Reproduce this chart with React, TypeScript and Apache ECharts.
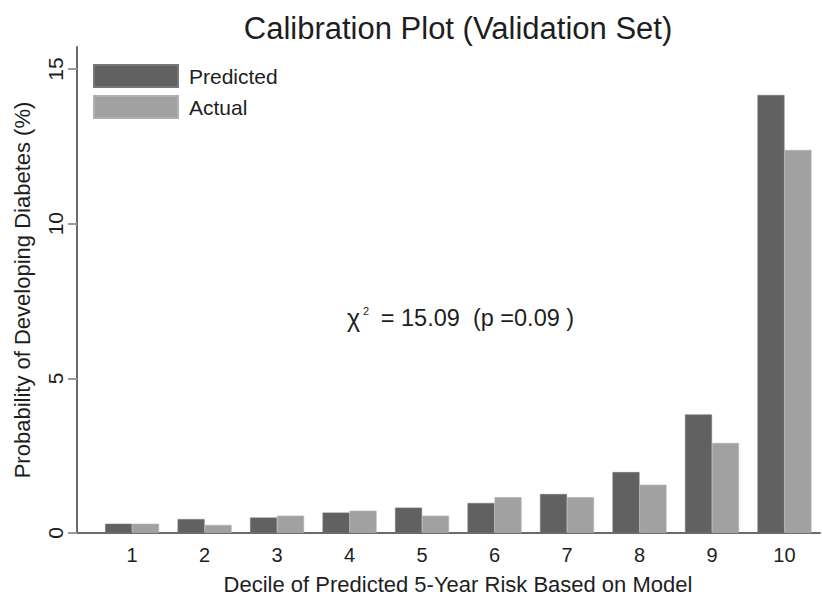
import React, { useEffect, useRef } from "react";
import * as echarts from "echarts";

const deciles = [1, 2, 3, 4, 5, 6, 7, 8, 9, 10];
const predicted = [0.3, 0.45, 0.5, 0.66, 0.82, 0.97, 1.26, 1.97, 3.83, 14.16];
const actual = [0.3, 0.26, 0.56, 0.72, 0.56, 1.16, 1.16, 1.56, 2.91, 12.38];
const yTicks = [0, 5, 10, 15];
const titleText = "Calibration Plot (Validation Set)";
const xTitle = "Decile of Predicted 5-Year Risk Based on Model";
const yTitle = "Probability of Developing Diabetes (%)";
const seriesNames = ["Predicted", "Actual"];

const FONT = "'Liberation Sans', Arial, sans-serif";
const TXT = "#1e1e1e";

export default function App() {
  const ref = useRef<HTMLDivElement>(null);
  useEffect(() => {
    if (!ref.current) return;
    const chart = echarts.init(ref.current, null, { renderer: "svg" });
    chart.setOption({
      animation: false,
      backgroundColor: "#ffffff",
      textStyle: { fontFamily: FONT, color: TXT },
      title: {
        text: titleText,
        left: 458,
        textAlign: "center",
        top: 13,
        padding: 0,
        textStyle: { fontFamily: FONT, fontSize: 31, fontWeight: "normal", color: TXT },
      },
      legend: {
        orient: "vertical",
        left: 93,
        top: 64,
        padding: 0,
        itemWidth: 84,
        itemHeight: 22,
        itemGap: 7,
        icon: "rect",
        data: seriesNames,
        textStyle: { fontFamily: FONT, fontSize: 21, lineHeight: 22, color: TXT, padding: [0, 0, 0, 6] },
      },
      grid: { left: 77, right: 2, top: 47, bottom: 63, containLabel: false, outerBoundsMode: "none" },
      xAxis: {
        type: "value",
        min: 0.24,
        max: 10.49,
        splitLine: { show: false },
        axisLine: { show: true, lineStyle: { color: "#6a6a6a", width: 2 } },
        axisTick: { show: false },
        axisLabel: {
          customValues: deciles,
          fontFamily: FONT,
          fontSize: 20,
          color: TXT,
          margin: 12,
        },
        name: xTitle,
        nameLocation: "middle",
        nameGap: 40,
        nameTextStyle: { fontFamily: FONT, fontSize: 22, color: TXT, padding: [0, 0, 0, 19] },
      },
      yAxis: {
        type: "value",
        min: 0,
        max: 15.71,
        splitLine: { show: false },
        axisLine: { show: true, lineStyle: { color: "#6a6a6a", width: 2 } },
        axisTick: {
          show: true,
          customValues: yTicks,
          length: 9,
          lineStyle: { color: "#9a9a9a", width: 2 },
        },
        axisLabel: {
          customValues: yTicks,
          rotate: 90,
          fontFamily: FONT,
          fontSize: 21,
          color: TXT,
          margin: 11,
        },
        name: yTitle,
        nameLocation: "middle",
        nameGap: 44,
        nameTextStyle: { fontFamily: FONT, fontSize: 22, color: TXT },
      },
      series: [
        {
          name: seriesNames[0],
          type: "bar",
          data: deciles.map((d, i) => [d, predicted[i]]),
          barWidth: 27,
          barGap: "0%",
          itemStyle: { color: "#616161", borderColor: "#777777", borderWidth: 0.6 },
        },
        {
          name: seriesNames[1],
          type: "bar",
          data: deciles.map((d, i) => [d, actual[i]]),
          barWidth: 27,
          barGap: "0%",
          itemStyle: { color: "#a1a1a1", borderColor: "#b0b0b0", borderWidth: 0.6 },
        },
      ],
      graphic: [
        {
          type: "text",
          x: 347,
          y: 318,
          style: {
            text: "{chi|χ}{sup|2}{n| = 15.09  (p =0.09 )}",
            verticalAlign: "middle",
            fill: TXT,
            rich: {
              chi: { fontFamily: FONT, fontSize: 25, fill: TXT },
              sup: { fontFamily: FONT, fontSize: 11, fill: TXT, verticalAlign: "top", padding: [0, 5, 15, 3] },
              n: { fontFamily: FONT, fontSize: 23.5, fill: TXT },
            },
          },
        },
      ],
    });
    return () => chart.dispose();
  }, []);
  return <div ref={ref} style={{ width: 822, height: 596, position: "fixed", left: 0, top: 0 }} />;
}
